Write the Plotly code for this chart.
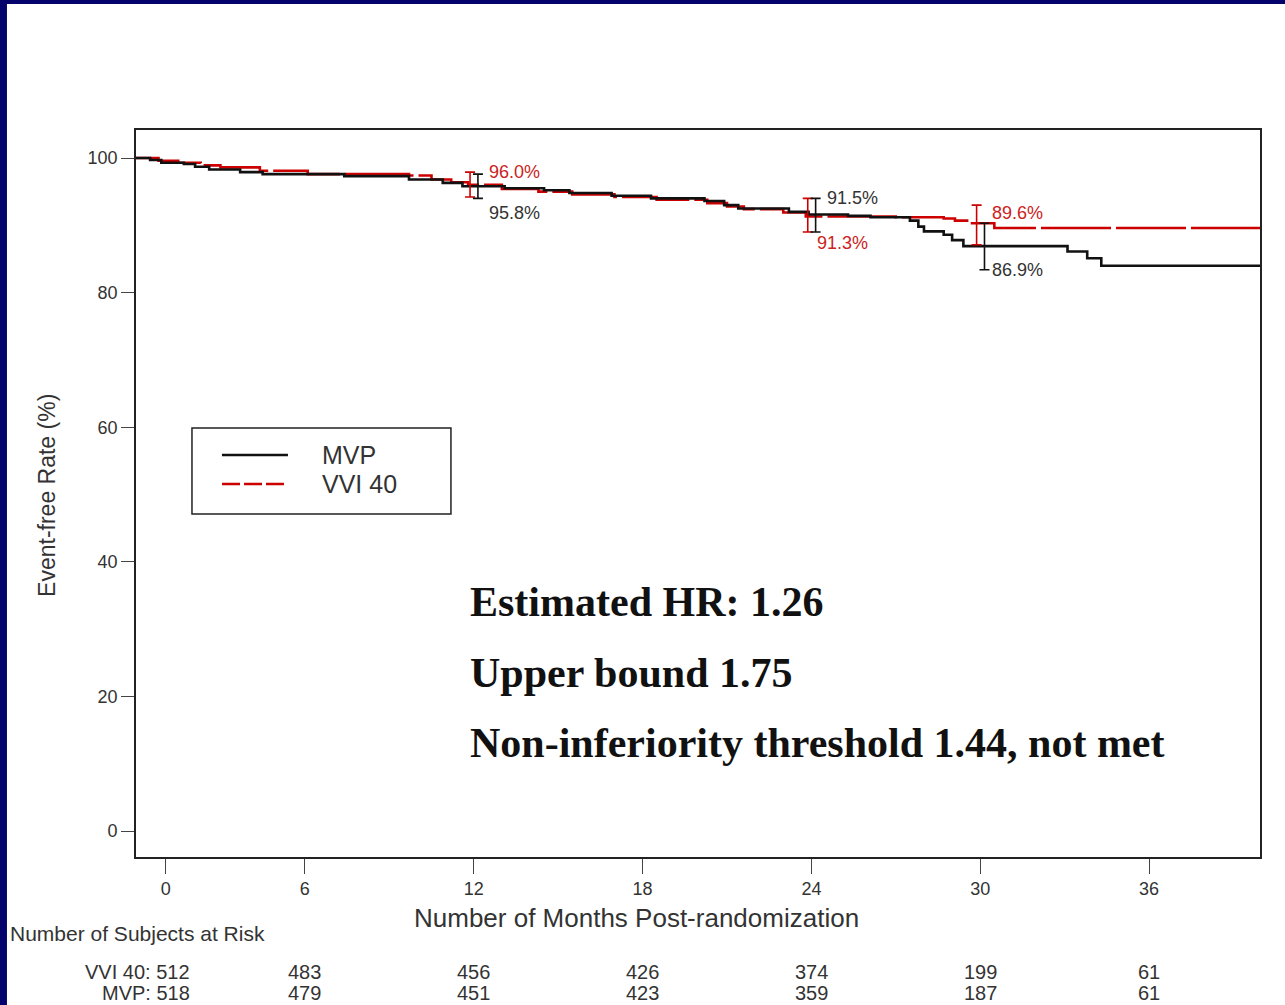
import plotly.graph_objects as go

# ---------------- data ----------------
mvp_months = [0, 0.5, 0.9, 1.7, 2.1, 2.6, 3.7, 4.5, 7.4, 9.7,
              10.9, 11.6, 13.1, 14.5, 15.4, 16.9, 18.3, 20.2, 20.9, 21.4,
              23.2, 23.9, 25.3, 26.1, 27.5, 27.8, 28.0, 28.7, 29.0, 29.4,
              33.1, 33.8, 34.3, 40]
mvp_rate = [100, 99.7, 99.3, 99.1, 98.7, 98.3, 97.9, 97.6, 97.3, 96.8,
            96.3, 95.8, 95.5, 95.2, 94.8, 94.4, 94.0, 93.6, 93.0, 92.5,
            92.0, 91.6, 91.4, 91.2, 90.7, 89.8, 89.1, 88.6, 87.8, 86.9,
            86.1, 85.1, 84.0, 84.0]

vvi_months = [0, 0.8, 1.5, 2.3, 3.0, 4.4, 6.1, 9.7, 10.5, 11.2,
              11.8, 13.0, 14.3, 15.5, 17.0, 18.5, 20.3, 21.0, 21.6, 23.0,
              23.8, 27.0, 28.7, 29.1, 29.6, 30.5, 40]
vvi_rate = [100, 99.6, 99.3, 98.9, 98.6, 98.1, 97.6, 97.4, 96.8, 96.4,
            96.0, 95.4, 95.0, 94.6, 94.2, 93.8, 93.3, 92.8, 92.4, 91.9,
            91.3, 91.2, 91.0, 90.7, 90.3, 89.6, 89.6]

ci_months = [12, 24, 30]
mvp_est = [95.8, 91.5, 86.9]
mvp_lo = [94.0, 89.0, 83.4]
mvp_hi = [97.6, 94.0, 90.3]
vvi_est = [96.0, 91.3, 89.6]
vvi_lo = [94.2, 89.0, 87.1]
vvi_hi = [97.9, 94.0, 93.0]

x_tick_labels = ["0", "6", "12", "18", "24", "30", "36"]
y_tick_labels = ["0", "20", "40", "60", "80", "100"]

risk_months = [6, 12, 18, 24, 30, 36]
risk_vvi = [483, 456, 426, 374, 199, 61]
risk_mvp = [479, 451, 423, 359, 187, 61]
risk_vvi_start = 512
risk_mvp_start = 518

stats_lines = ["Estimated HR: 1.26",
               "Upper bound 1.75",
               "Non-inferiority threshold 1.44, not met"]

series_names = ["MVP", "VVI 40"]

# ---------------- style ----------------
BLACK = "#111111"
RED = "#cc0000"
TXT = "#333333"
NAVY = "#03036b"
SANS = "Liberation Sans, Arial, sans-serif"
SERIF = "Liberation Serif, Times New Roman, serif"

fig = go.Figure()

fig.add_trace(go.Scatter(x=vvi_months, y=vvi_rate, mode="lines", line_shape="hv",
                         line=dict(color=RED, width=2.6, dash="70px,5px"),
                         name=series_names[1], showlegend=False, hoverinfo="skip"))
fig.add_trace(go.Scatter(x=mvp_months, y=mvp_rate, mode="lines", line_shape="hv",
                         line=dict(color=BLACK, width=2.6), name=series_names[0],
                         showlegend=False, hoverinfo="skip"))

# confidence interval bars
def ci_trace(est, lo, hi, color, offset):
    return go.Scatter(
        x=[m + offset for m in ci_months], y=est, mode="markers",
        marker=dict(size=1, color=color, opacity=0),
        error_y=dict(type="data", symmetric=False,
                     array=[h - e for h, e in zip(hi, est)],
                     arrayminus=[e - l for e, l in zip(est, lo)],
                     color=color, thickness=1.6, width=5),
        showlegend=False, hoverinfo="skip")

fig.add_trace(ci_trace(vvi_est, vvi_lo, vvi_hi, RED, -0.13))
fig.add_trace(ci_trace(mvp_est, mvp_lo, mvp_hi, BLACK, 0.15))

# CI value labels: (series, index, anchor, xshift, yshift)
label_specs = [("vvi", 0, "hi", 13, 0), ("mvp", 0, "lo", 13, -15),
               ("mvp", 1, "hi", 14, 0), ("vvi", 1, "lo", 4, -11),
               ("vvi", 2, "hi", 10, -8), ("mvp", 2, "lo", 10, 0)]
vals = {"mvp": (mvp_est, mvp_lo, mvp_hi, "#333333"),
        "vvi": (vvi_est, vvi_lo, vvi_hi, "#cc2222")}
for s, i, anc, xs, ys in label_specs:
    est, lo, hi, col = vals[s]
    fig.add_annotation(x=ci_months[i], y=(hi if anc == "hi" else lo)[i],
                       xref="x", yref="y", text=f"{est[i]:.1f}%", showarrow=False,
                       xanchor="left", yanchor="middle", xshift=xs, yshift=ys,
                       font=dict(family=SANS, size=18, color=col))

# statistics text
for k, line in enumerate(stats_lines):
    fig.add_annotation(x=0.2954, y=0.3508 - k * 0.0972, xref="paper", yref="paper",
                       text=f"<b>{line}</b>", showarrow=False, xanchor="left",
                       yanchor="middle", font=dict(family=SERIF, size=42, color="#111111"))

# manual legend
fig.add_shape(type="rect", xref="paper", yref="paper", x0=0.0498, x1=0.2802,
              y0=0.4718, y1=0.5901, line=dict(color="#222222", width=1.5),
              fillcolor="white")
fig.add_shape(type="line", xref="paper", yref="paper", x0=0.0765, x1=0.1352,
              y0=0.553, y1=0.553, line=dict(color=BLACK, width=2.6))
fig.add_shape(type="line", xref="paper", yref="paper", x0=0.0765, x1=0.1352,
              y0=0.513, y1=0.513, line=dict(color=RED, width=2.6, dash="18px,4px"))
for yy, name in zip([0.553, 0.513], series_names):
    fig.add_annotation(x=0.1637, y=yy, xref="paper", yref="paper", text=name,
                       showarrow=False, xanchor="left", yanchor="middle",
                       font=dict(family=SANS, size=25, color=TXT))

# axis titles
fig.add_annotation(x=-0.0792, y=0.498, xref="paper", yref="paper",
                   text="Event-free Rate (%)", textangle=-90, showarrow=False,
                   xanchor="center", yanchor="middle",
                   font=dict(family=SANS, size=23, color=TXT))
fig.add_annotation(x=0.4457, y=-0.0839, xref="paper", yref="paper",
                   text="Number of Months Post-randomization", showarrow=False,
                   xanchor="center", yanchor="middle",
                   font=dict(family=SANS, size=26, color=TXT))

# risk table
fig.add_annotation(x=-0.1139, y=-0.1046, xref="paper", yref="paper",
                   text="Number of Subjects at Risk", showarrow=False, xanchor="left",
                   yanchor="middle", font=dict(family=SANS, size=21, color=TXT))
for yy, lab, start, row in [(-0.1578, "VVI 40", risk_vvi_start, risk_vvi),
                            (-0.1867, "MVP", risk_mvp_start, risk_mvp)]:
    fig.add_annotation(x=0.0498, y=yy, xref="paper", yref="paper",
                       text=f"{lab}: {start}", showarrow=False, xanchor="right",
                       yanchor="middle", font=dict(family=SANS, size=20, color=TXT))
    for m, n in zip(risk_months, row):
        fig.add_annotation(x=m, y=yy, xref="x", yref="paper", text=str(n),
                           showarrow=False, xanchor="center", yanchor="middle",
                           font=dict(family=SANS, size=20, color=TXT))

# navy slide frame (top and left bands)
fig.add_shape(type="rect", xref="paper", yref="paper", x0=-0.2, x1=1.1,
              y0=1.1733, y1=1.25, line_width=0, fillcolor=NAVY, layer="above")
fig.add_shape(type="rect", xref="paper", yref="paper", x0=-0.2, x1=-0.1148,
              y0=-0.3, y1=1.25, line_width=0, fillcolor=NAVY, layer="above")

x_tickvals = [float(t) for t in x_tick_labels]
x_tickvals[0] = 1.06  # the reference prints its "0" tick slightly right of the corner

fig.update_layout(
    width=1285, height=1005,
    margin=dict(l=136, r=25, t=130, b=148),
    paper_bgcolor="white", plot_bgcolor="white",
    showlegend=False,
    xaxis=dict(range=[0, 39.94], tickvals=x_tickvals, ticktext=x_tick_labels,
               showgrid=False, zeroline=False, showline=True, mirror=True,
               linecolor="#222222", linewidth=1.6, ticks="outside", ticklen=15,
               tickcolor="#444444", tickwidth=1.4,
               tickfont=dict(family=SANS, size=18, color=TXT)),
    yaxis=dict(range=[-3.86, 104.16], tickvals=[float(t) for t in y_tick_labels],
               ticktext=y_tick_labels, showgrid=False, zeroline=False, showline=True,
               mirror=True, linecolor="#222222", linewidth=1.6, ticks="outside",
               ticklen=13, tickcolor="#444444", tickwidth=1.4,
               tickfont=dict(family=SANS, size=18, color=TXT)),
)

fig.write_html("out.html")
